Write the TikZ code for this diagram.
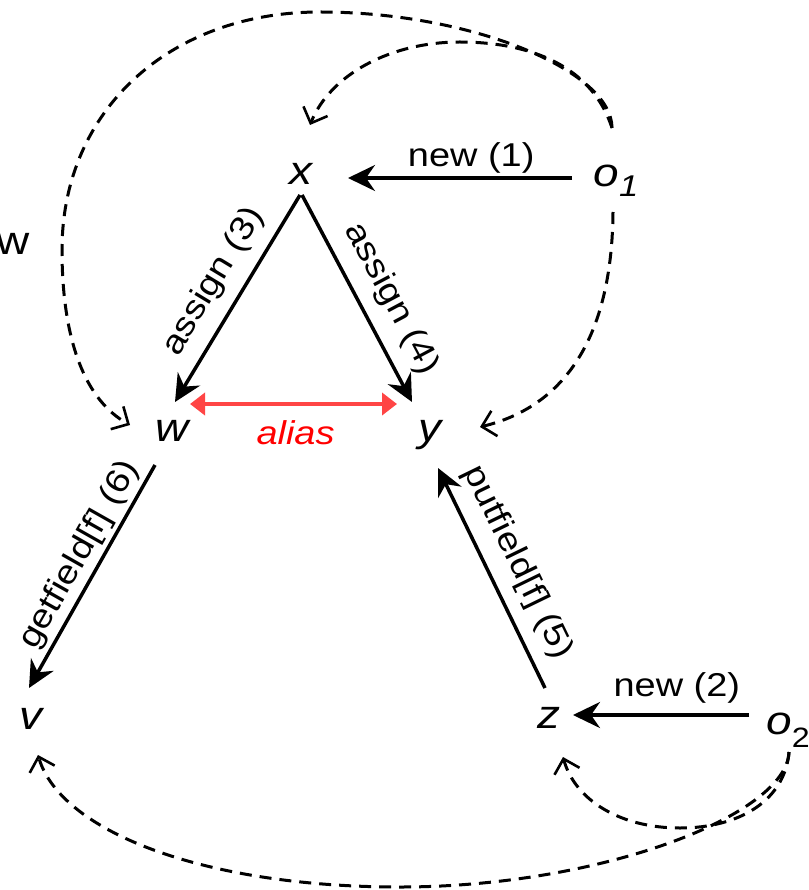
\documentclass[tikz,border=0pt]{standalone}
\usepackage{fontspec}
\setmainfont[FakeStretch=1.15]{Liberation Sans}
\usetikzlibrary{arrows.meta}
\definecolor{aliasred}{HTML}{FF4545}
\definecolor{aliastext}{HTML}{FF0000}
\begin{document}
\begin{tikzpicture}[x=1pt,y=-1pt,
  var/.style={inner sep=0pt, outer sep=0pt, font=\fontsize{40}{40}\selectfont\itshape},
  lbl/.style={font=\fontsize{33}{33}\selectfont, inner sep=#1},
  solidarr/.style={line width=3.5pt, -{Stealth[length=27pt,width=26pt,inset=9pt]}},
  dasharr/.style={line width=3pt, dash pattern=on 12pt off 8pt, -{Straight Barb[length=13pt,width=26pt,line width=2.6pt]}},
  aliasarr/.style={draw=aliasred, line width=4.5pt, {Triangle[length=15pt,width=22pt]}-{Triangle[length=15pt,width=22pt]}},
]
\useasboundingbox (0,0) rectangle (808,890);

% nodes
\node[var] (x) at (301,174) {x};
\node[var] (o1) at (616,181) {o\raisebox{-10pt}{\fontsize{30}{30}\selectfont 1}};
\node[var] (w) at (172,431) {w};
\node[var] (y) at (430,435) {y};
\node[var] (v) at (31,719) {v};
\node[var] (z) at (549,718) {z};
\node[var] (o2) at (788,730) {o\raisebox{-13pt}{\upshape\fontsize{28}{28}\selectfont 2}};
\node[font=\fontsize{40}{40}\selectfont, inner sep=0pt] (stray) at (13,244) {w};

% solid edges
\draw[solidarr] ([shift={(-44,-3)}]o1.center) -- node[lbl=3pt, above, pos=0.45] {new (1)} ([shift={(47,4)}]x.center);
\draw[solidarr] ([shift={(-1,21)}]x.center) -- node[lbl=12pt, sloped, above, pos=0.49] {assign (3)} ([shift={(3,-29)}]w.center);
\draw[solidarr] ([shift={(1,21)}]x.center) -- node[lbl=13pt, sloped, above, pos=0.57] {assign (4)} ([shift={(-18,-33)}]y.center);
\draw[solidarr] ([shift={(-17,34)}]w.center) -- node[lbl=4pt, sloped, above, pos=0.45] {getfield[f] (6)} ([shift={(-2,-31)}]v.center);
\draw[solidarr] ([shift={(-4,-30)}]z.center) -- node[lbl=13pt, sloped, above, pos=0.51] {putfield[f] (5)} ([shift={(8,33)}]y.center);
\draw[solidarr] ([shift={(-39,-15)}]o2.center) -- node[lbl=10pt, above, pos=0.41] {new (2)} ([shift={(24,-3)}]z.center);

% alias
\draw[aliasarr] ([shift={(18,-27)}]w.center) -- node[lbl=14pt, below, pos=0.51, text=aliastext, font=\fontsize{33}{33}\selectfont\itshape] {alias} ([shift={(-33,-31)}]y.center);

% dashed edges
\draw[dasharr] ([shift={(-4,-53)}]o1.center) .. controls (612,70) and (470,12) .. (320,12)
  .. controls (170,12) and (62,110) .. (62,250)
  .. controls (62,340) and (85,400) .. ([shift={(-42,-6)}]w.center);
\draw[dasharr] ([shift={(-4,-53)}]o1.center) .. controls (590,60) and (520,42) .. (460,42)
  .. controls (390,42) and (330,75) .. ([shift={(9,-49)}]x.center);
\draw[dasharr] ([shift={(-3,31)}]o1.center) .. controls (612,330) and (570,405) .. ([shift={(50,-8)}]y.center);
\draw[dasharr] ([shift={(1,22)}]o2.center) .. controls (787,815) and (600,887) .. (400,887)
  .. controls (200,887) and (60,830) .. ([shift={(7,36)}]v.center);
\draw[dasharr] ([shift={(1,22)}]o2.center) .. controls (785,800) and (740,828) .. (680,828)
  .. controls (620,828) and (575,800) .. ([shift={(14,39)}]z.center);
\end{tikzpicture}
\end{document}
